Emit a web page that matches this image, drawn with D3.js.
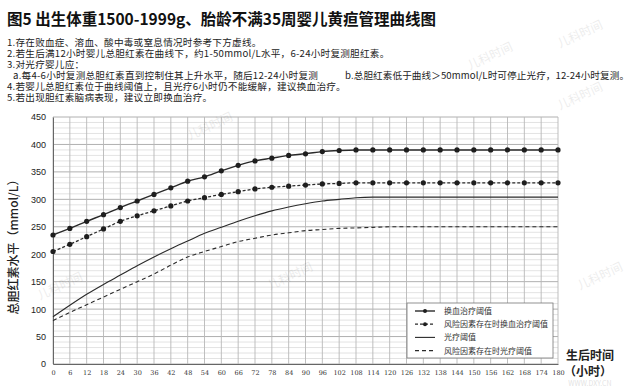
<!DOCTYPE html>
<html>
<head>
<meta charset="utf-8">
<script src="https://cdn.jsdelivr.net/npm/d3@7"></script>
<style>
  body { margin: 0; background: #fff; }
  svg { display: block; font-family: "Noto Sans CJK SC", "Noto Sans", sans-serif; }
</style>
</head>
<body>
<script>
// hours after birth
let hours = [0, 6, 12, 18, 24, 30, 36, 42, 48, 54, 60, 66, 72, 78, 84, 90, 96, 102, 108, 114, 120, 126, 132, 138, 144, 150, 156, 162, 168, 174, 180];
let yTicks = [0, 50, 100, 150, 200, 250, 300, 350, 400, 450];

// 换血治疗阈值
let exchange = [235, 247, 260, 272, 285, 297, 309, 321, 333, 341, 352, 362, 370, 375, 380, 383, 387, 389, 390, 390, 390, 390, 390, 390, 390, 390, 390, 390, 390, 390, 390];
// 风险因素存在时换血治疗阈值
let riskExchange = [205, 218, 232, 246, 260, 270, 279, 288, 297, 303, 309, 314, 319, 322, 324, 326, 328, 329, 330, 330, 330, 330, 330, 330, 330, 330, 330, 330, 330, 330, 330];
// 光疗阈值
let photo = [86, 107, 127, 145, 162, 179, 195, 210, 224, 238, 249, 260, 270, 279, 286, 292, 297, 300, 303, 304, 304, 304, 304, 304, 304, 304, 304, 304, 304, 304, 304];
// 风险因素存在时光疗阈值
let riskPhoto = [79, 94, 108, 122, 136, 150, 164, 180, 195, 205, 214, 223, 229, 235, 239, 243, 245, 247, 248, 249, 250, 250, 250, 250, 250, 250, 250, 250, 250, 250, 250];

let legendNames = ['换血治疗阈值', '风险因素存在时换血治疗阈值', '光疗阈值', '风险因素存在时光疗阈值'];

let titleText = '图5 出生体重1500-1999g、胎龄不满35周婴儿黄疸管理曲线图';
let notes = [
  '1.存在败血症、溶血、酸中毒或窒息情况时参考下方虚线。',
  '2.若生后满12小时婴儿总胆红素在曲线下，约1-50mmol/L水平，6-24小时复测胆红素。',
  '3.对光疗婴儿应：',
  '4.若婴儿总胆红素位于曲线阈值上，且光疗6小时仍不能缓解，建议换血治疗。',
  '5.若出现胆红素脑病表现，建议立即换血治疗。'
];
let noteA = 'a.每4-6小时复测总胆红素直到控制住其上升水平，随后12-24小时复测';
let noteB = 'b.总胆红素低于曲线＞50mmol/L时可停止光疗，12-24小时复测。';

let width = 640, height = 390;
let plotL = 53, plotR = 558, plotT = 117, plotB = 364;

let svg = d3.select('body').append('svg')
  .attr('width', width)
  .attr('height', height);

// title + notes
svg.append('text')
  .attr('x', 7).attr('y', 25)
  .attr('font-size', 15.5).attr('font-weight', 'bold').attr('fill', '#111')
  .text(titleText);

let noteY = [46, 57, 68, 90, 101];
notes.forEach((t, i) => {
  svg.append('text')
    .attr('x', 7).attr('y', noteY[i])
    .attr('font-size', 9.6).attr('letter-spacing', 0.25).attr('fill', '#222')
    .text(t);
});
svg.append('text').attr('x', 13).attr('y', 79).attr('font-size', 9.6).attr('letter-spacing', 0.25).attr('fill', '#222').text(noteA);
svg.append('text').attr('x', 345).attr('y', 79).attr('font-size', 9.6).attr('letter-spacing', 0.1).attr('fill', '#222').text(noteB);

let xScale = d3.scaleLinear().domain([0, 180]).range([plotL, plotR]);
let yScale = d3.scaleLinear().domain([0, 450]).range([plotB, plotT]);

// grid
let grid = svg.append('g');
grid.selectAll('.minor')
  .data(d3.range(0, 451, 10).filter(v => v % 50 != 0))
  .enter().append('line')
  .attr('x1', plotL).attr('x2', plotR)
  .attr('y1', d => yScale(d)).attr('y2', d => yScale(d))
  .attr('stroke', '#dcdcdc').attr('stroke-width', 0.8);
grid.selectAll('.major')
  .data(yTicks)
  .enter().append('line')
  .attr('x1', plotL).attr('x2', plotR)
  .attr('y1', d => yScale(d)).attr('y2', d => yScale(d))
  .attr('stroke', '#b0b0b0').attr('stroke-width', 1);
grid.selectAll('.vert')
  .data(hours)
  .enter().append('line')
  .attr('x1', d => xScale(d)).attr('x2', d => xScale(d))
  .attr('y1', plotT).attr('y2', plotB)
  .attr('stroke', '#b8b8b8').attr('stroke-width', 0.9);

// axes
let xAxis = d3.axisBottom(xScale).tickValues(hours).tickSize(0).tickPadding(6);
let yAxis = d3.axisLeft(yScale).tickValues(yTicks).tickSize(0).tickPadding(7);

svg.append('g')
  .attr('transform', 'translate(0,' + plotB + ')')
  .call(xAxis)
  .call(g => g.select('.domain').attr('stroke', '#666'))
  .call(g => g.selectAll('text').attr('font-size', 6.5).attr('fill', '#333').attr('font-family', 'DejaVu Serif'));

svg.append('g')
  .attr('transform', 'translate(' + plotL + ',0)')
  .call(yAxis)
  .call(g => g.select('.domain').attr('stroke', '#666'))
  .call(g => g.selectAll('text').attr('font-size', 9).attr('fill', '#222').attr('font-family', 'Liberation Sans'));

// axis titles
svg.append('text')
  .attr('transform', 'translate(18,244) rotate(-90)')
  .attr('text-anchor', 'middle')
  .attr('font-size', 12).attr('font-weight', 500).attr('fill', '#222')
  .text('总胆红素水平（mmol/L）');

svg.append('text').attr('x', 590).attr('y', 360).attr('text-anchor', 'middle')
  .attr('font-size', 12).attr('font-weight', 'bold').attr('fill', '#222').text('生后时间');
svg.append('text').attr('x', 588).attr('y', 376).attr('text-anchor', 'middle')
  .attr('font-size', 12).attr('font-weight', 'bold').attr('fill', '#222').text('（小时）');

// curves
let series = [
  { values: exchange, dash: null, dots: true, w: 1.4 },
  { values: riskExchange, dash: '3,2', dots: true, w: 1.3 },
  { values: photo, dash: null, dots: false, w: 1.1 },
  { values: riskPhoto, dash: '4,3', dots: false, w: 1.1 }
];

let line = d3.line()
  .x((d, i) => xScale(hours[i]))
  .y(d => yScale(d))
  .curve(d3.curveMonotoneX);

series.forEach(s => {
  svg.append('path')
    .datum(s.values)
    .attr('d', line)
    .attr('fill', 'none')
    .attr('stroke', '#2a2a2a')
    .attr('stroke-width', s.w)
    .attr('stroke-dasharray', s.dash);
  if (s.dots) {
    svg.append('g').selectAll('circle')
      .data(s.values)
      .enter().append('circle')
      .attr('cx', (d, i) => xScale(hours[i]))
      .attr('cy', d => yScale(d))
      .attr('r', 2.6)
      .attr('fill', '#1e1e1e');
  }
});

// legend
let lg = svg.append('g').attr('transform', 'translate(407,303)');
lg.append('rect')
  .attr('width', 146).attr('height', 55)
  .attr('fill', '#fff').attr('stroke', '#777').attr('stroke-width', 0.8);
legendNames.forEach((name, i) => {
  let yy = 8 + i * 13.2;
  let s = series[i];
  lg.append('line')
    .attr('x1', 8).attr('x2', 28).attr('y1', yy).attr('y2', yy)
    .attr('stroke', '#2a2a2a').attr('stroke-width', s.w)
    .attr('stroke-dasharray', s.dash);
  if (s.dots) {
    lg.append('circle').attr('cx', 18).attr('cy', yy).attr('r', 2).attr('fill', '#1e1e1e');
  }
  lg.append('text')
    .attr('x', 37).attr('y', yy + 3)
    .attr('font-size', 8).attr('fill', '#333')
    .text(name);
});

// faint watermarks
let marks = [[190, 140], [560, 48], [560, 110], [40, 300], [270, 290], [580, 290], [470, 70]];
marks.forEach(m => {
  svg.append('text')
    .attr('transform', 'translate(' + m[0] + ',' + m[1] + ') rotate(-25)')
    .attr('font-size', 12).attr('fill', '#000').attr('opacity', 0.07)
    .text('儿科时间');
});
svg.append('text').attr('x', 590).attr('y', 386).attr('text-anchor', 'middle')
  .attr('font-size', 7).attr('fill', '#000').attr('opacity', 0.12).text('WWW.DXY.CN');
</script>
</body>
</html>
